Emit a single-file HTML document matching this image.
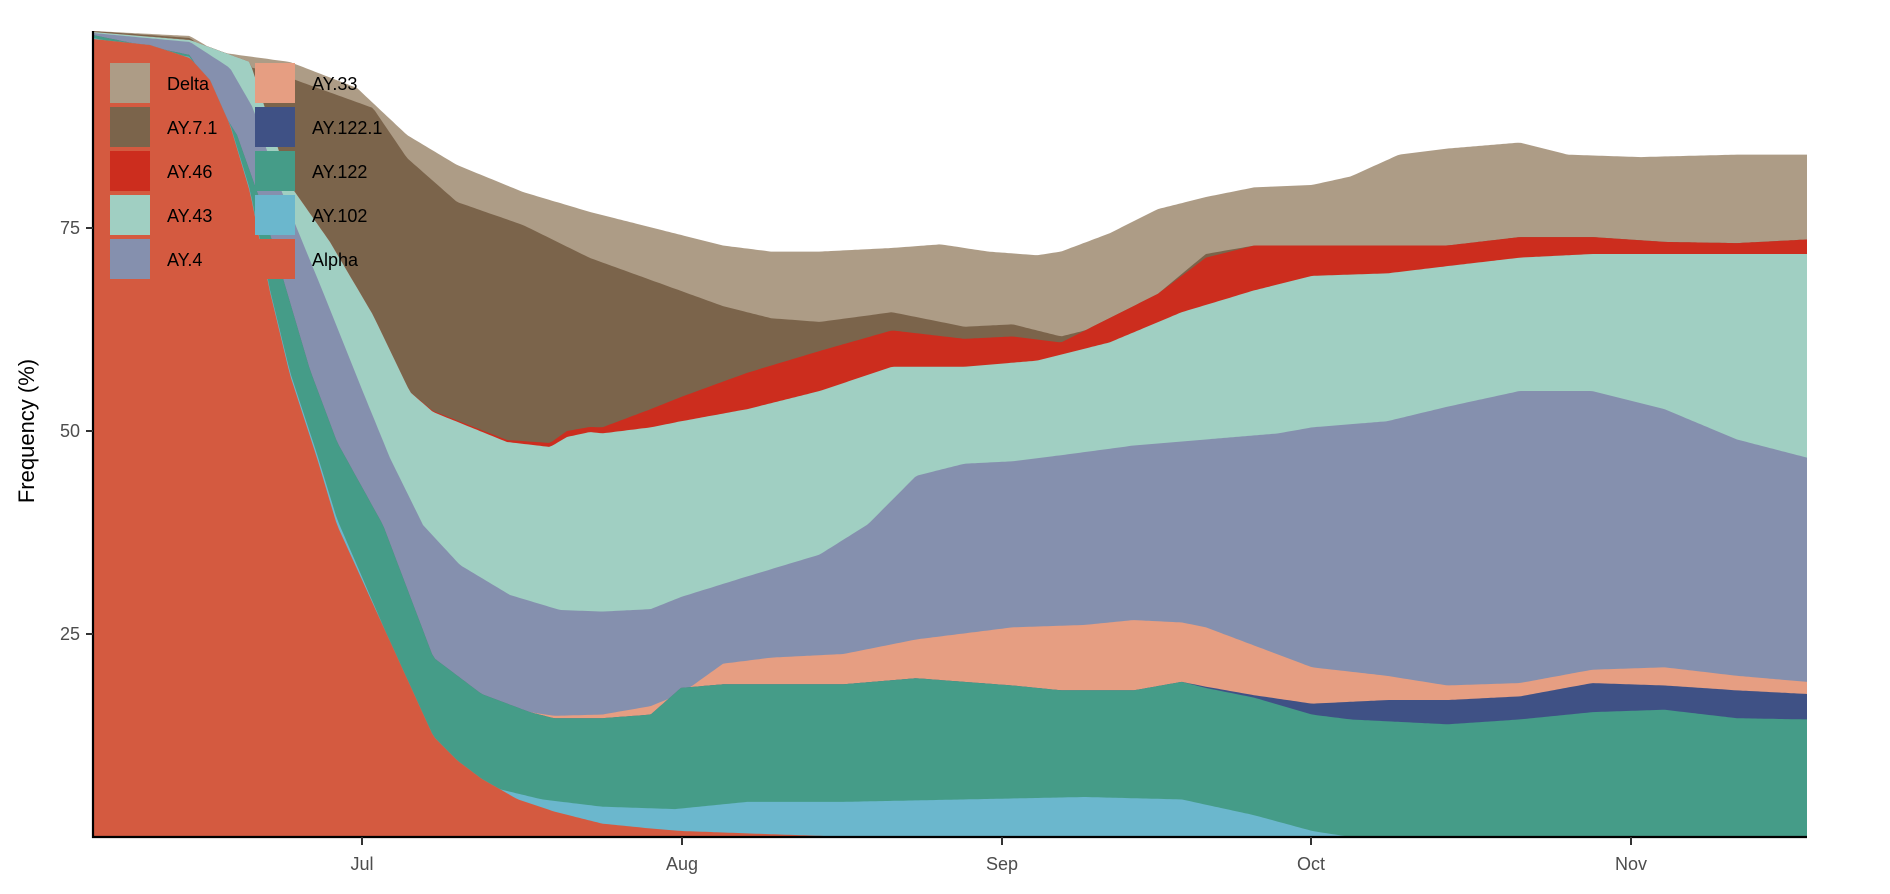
<!DOCTYPE html>
<html><head><meta charset="utf-8"><style>
html,body{margin:0;padding:0;background:#fff;}
svg{display:block;font-family:"Liberation Sans",sans-serif;}
</style></head><body>
<svg id="c" width="1890" height="894" viewBox="0 0 1890 894" xmlns="http://www.w3.org/2000/svg">
<g id="areas"></g>
<line x1="93" y1="31" x2="93" y2="838" stroke="#000" stroke-width="2.2"/>
<line x1="92" y1="837" x2="1807" y2="837" stroke="#000" stroke-width="2.2"/>
<g stroke="#333" stroke-width="2">
<line x1="86" y1="228" x2="93" y2="228"/><line x1="86" y1="431" x2="93" y2="431"/><line x1="86" y1="634" x2="93" y2="634"/>
<line x1="362" y1="837" x2="362" y2="845"/><line x1="682" y1="837" x2="682" y2="845"/><line x1="1002" y1="837" x2="1002" y2="845"/><line x1="1311" y1="837" x2="1311" y2="845"/><line x1="1631" y1="837" x2="1631" y2="845"/>
</g>
<g fill="#4d4d4d" font-size="18" text-anchor="end">
<text x="80" y="234">75</text><text x="80" y="437">50</text><text x="80" y="640">25</text>
</g>
<g fill="#4d4d4d" font-size="18" text-anchor="middle">
<text x="362" y="870">Jul</text><text x="682" y="870">Aug</text><text x="1002" y="870">Sep</text><text x="1311" y="870">Oct</text><text x="1631" y="870">Nov</text>
</g>
<text transform="translate(34,431) rotate(-90)" text-anchor="middle" font-size="22" fill="#000">Frequency (%)</text>
<g id="legend" font-size="18" fill="#000"></g>
</svg>
<script>
const layers=[
["#ad9c86",[[93,31],[190,36],[217,52],[290,62],[357,88],[407,135],[457,165],[523,192],[590,212]],[[78,27],[600,205],[640,210],[680,210],[740,207],[780,204],[820,210],[860,213],[880,210],[920,195],[960,175],[1000,165],[1040,157],[1088,155],[1120,148],[1160,130],[1200,125],[1260,120],[1300,130],[1360,132],[1440,130],[1498,130]]],
["#7b644b",[[93,31],[190,38],[217,58],[290,78],[373,108],[407,158],[457,202],[523,225],[590,258]],[[78,29],[600,255],[640,265],[680,268],[740,260],[800,272],[840,270],[880,280],[920,270],[960,245],[1000,212],[1040,205],[1088,205],[1150,205],[1200,205],[1260,198],[1320,198],[1380,202],[1440,203],[1498,200]]],
["#cc2d1e",[[93,32],[190,40],[250,62],[290,185],[330,242],[373,315],[410,392],[433,411],[507,440],[550,443],[567,431],[590,427]],[[78,29],[500,355],[540,340],[565,330],[620,310],[680,292],[740,275],[800,282],[840,280],[880,285],[920,265],[960,245],[1000,215],[1040,205],[1088,205],[1150,205],[1200,205],[1260,198],[1320,198],[1380,202],[1440,203],[1498,200]]],
["#a0cfc2",[[93,32],[190,40],[250,62],[290,185],[330,242],[373,315],[410,392],[433,412],[507,442],[550,447],[567,437],[590,432]],[[78,29],[500,360],[540,355],[565,350],[620,340],[680,325],[740,305],[800,305],[860,300],[920,285],[980,260],[1040,242],[1088,230],[1150,228],[1200,222],[1260,215],[1320,212],[1380,212],[1440,212],[1498,212]]],
["#8590ae",[[93,33],[190,42],[230,68],[253,108],[275,175],[323,292],[363,392],[390,458],[423,525],[460,565],[510,595],[560,610]],[[78,29],[500,507],[540,505],[565,495],[620,478],[680,460],[720,435],[760,395],[800,385],[840,383],[880,378],[940,370],[1000,365],[1060,360],[1088,355],[1150,350],[1200,338],[1260,325],[1320,325],[1380,340],[1440,365],[1498,380]]],
["#e69e82",[[93,35],[190,55],[210,92],[237,135],[260,200],[287,292],[310,370],[337,442],[383,525]],[[78,29],[360,545],[400,575],[440,590],[460,593],[500,592],[540,585],[565,575],[600,550],[640,545],[700,542],[760,530],[800,525],[840,520],[900,518],[940,514],[980,516],[1000,520],[1040,535],[1088,553],[1150,560],[1200,568],[1260,566],[1320,555],[1380,553],[1440,560],[1498,565]]],
["#3f5185",[[93,35],[190,55],[210,92],[237,135],[260,200],[287,292],[310,370],[337,442],[383,525]],[[78,29],[360,545],[400,575],[440,590],[460,595],[500,595],[540,592],[565,570],[600,567],[640,567],[700,567],[760,562],[800,565],[840,568],[880,572],[940,572],[980,565],[1000,569],[1040,576],[1088,583],[1150,580],[1200,580],[1260,577],[1320,566],[1380,568],[1440,572],[1498,575]]],
["#459c88",[[93,35],[190,55],[210,92],[237,135],[260,200],[287,292],[310,370],[337,442],[383,525]],[[78,29],[360,545],[400,575],[440,590],[460,595],[500,595],[540,592],[565,570],[600,567],[640,567],[700,567],[760,562],[800,565],[840,568],[880,572],[940,572],[980,565],[1000,570],[1040,578],[1088,592],[1120,596],[1200,600],[1260,596],[1320,590],[1380,588],[1440,595],[1498,596]]],
["#6bb7cd",[[93,38],[190,57],[230,124],[250,190],[270,290],[290,372],[317,454],[337,519]],[[78,30],[360,615],[400,650],[450,662],[500,668],[560,670],[620,664],[700,664],[800,662],[900,660],[980,662],[1040,675],[1088,688],[1120,693],[1498,693]]],
["#d45a40",[[93,39],[150,45],[190,58],[210,80],[230,125],[250,192],[270,292],[290,375],[317,458],[337,525]],[[78,30],[360,610],[380,630],[400,645],[430,662],[460,672],[500,682],[540,686],[565,688],[620,690],[680,692],[700,693],[1498,693]]]
];
const tx=x=>93+(x-78)*1.2070;const ty=y=>837-(693-y)*1.212;
function interp(pts,x){for(let i=0;i<pts.length-1;i++){if(x>=pts[i][0]&&x<=pts[i+1][0]){const t=(x-pts[i][0])/(pts[i+1][0]-pts[i][0]);return pts[i][1]+t*(pts[i+1][1]-pts[i][1]);}}return pts[pts.length-1][1];}
const L=layers.map(l=>{const early=l[1];const lastX=early[early.length-1][0];const rest=l[2].map(p=>[tx(p[0]),ty(p[1])]).filter(p=>p[0]>lastX+5);return early.concat(rest);});
const xs=[];for(let x=93;x<1807;x+=3)xs.push(x);xs.push(1807);
const n=L.length;const Y=L.map(p=>xs.map(x=>interp(p,x)));
for(let i=n-2;i>=0;i--){for(let j=0;j<xs.length;j++){if(Y[i][j]>Y[i+1][j])Y[i][j]=Y[i+1][j];}}
let g="";
for(let i=0;i<n;i++){let d="M93,837";for(let j=0;j<xs.length;j++)d+="L"+xs[j]+","+Y[i][j].toFixed(1);d+="L1807,837Z";g+='<path d="'+d+'" fill="'+layers[i][0]+'"/>';}
document.getElementById("areas").innerHTML=g;
const leg=[["Delta","#ad9c86"],["AY.7.1","#7b644b"],["AY.46","#cc2d1e"],["AY.43","#a0cfc2"],["AY.4","#8590ae"],["AY.33","#e69e82"],["AY.122.1","#3f5185"],["AY.122","#459c88"],["AY.102","#6bb7cd"],["Alpha","#d45a40"]];
let lg="";leg.forEach((e,i)=>{const col=Math.floor(i/5),row=i%5;const sx=col?255:110,y=63+row*44;lg+='<rect x="'+sx+'" y="'+y+'" width="40" height="40" fill="'+e[1]+'"/><text x="'+(sx+57)+'" y="'+(y+27)+'">'+e[0]+'</text>';});
document.getElementById("legend").innerHTML=lg;
</script>
</body></html>
